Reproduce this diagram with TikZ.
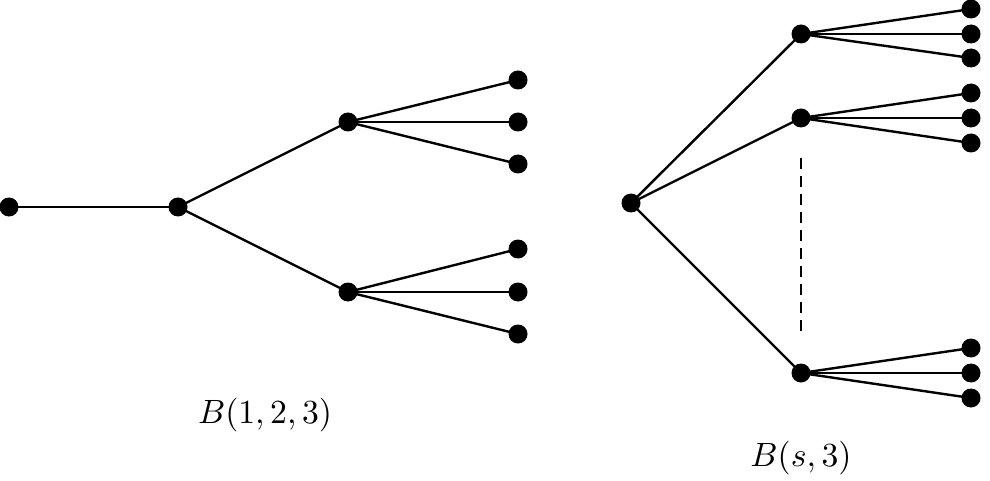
\documentclass[tikz,border=0pt]{standalone}
\usepackage{graphicx}
\begin{document}
\begin{tikzpicture}[x=1pt,y=-1pt,
  dot/.style={circle,fill=black,inner sep=0pt,minimum size=19pt},
  edge/.style={line width=2.4pt},
  lbl/.style={inner sep=0pt}]
\useasboundingbox (0,0) rectangle (990,481);
% left tree
\node[dot] (r) at (9,207) {};
\node[dot] (a) at (178,207) {};
\node[dot] (b1) at (348,122) {};
\node[dot] (b2) at (348,292) {};
\node[dot] (l1) at (518,80) {};
\node[dot] (l2) at (518,122) {};
\node[dot] (l3) at (518,164) {};
\node[dot] (l4) at (518,249) {};
\node[dot] (l5) at (518,292) {};
\node[dot] (l6) at (518,334) {};
\draw[edge] (r.center) -- (a.center);
\draw[edge] (a.center) -- (b1.center);
\draw[edge] (a.center) -- (b2.center);
\foreach \l in {l1,l2,l3} \draw[edge] (b1.center) -- (\l.center);
\foreach \l in {l4,l5,l6} \draw[edge] (b2.center) -- (\l.center);
\node[lbl] (t1) at (265,415) {\scalebox{3.37}{$B(1,2,3)$}};
% right tree
\node[dot] (R) at (631,203) {};
\node[dot] (c1) at (801,34) {};
\node[dot] (c2) at (801,118) {};
\node[dot] (c3) at (801,373) {};
\node[dot] (m1) at (971,9) {};
\node[dot] (m2) at (971,34) {};
\node[dot] (m3) at (971,58) {};
\node[dot] (m4) at (971,93) {};
\node[dot] (m5) at (971,118) {};
\node[dot] (m6) at (971,143) {};
\node[dot] (m7) at (971,348) {};
\node[dot] (m8) at (971,373) {};
\node[dot] (m9) at (971,398) {};
\foreach \c in {c1,c2,c3} \draw[edge] (R.center) -- (\c.center);
\foreach \l in {m1,m2,m3} \draw[edge] (c1.center) -- (\l.center);
\foreach \l in {m4,m5,m6} \draw[edge] (c2.center) -- (\l.center);
\foreach \l in {m7,m8,m9} \draw[edge] (c3.center) -- (\l.center);
\coordinate (d1) at (801,158);
\coordinate (d2) at (801,332);
\draw[line width=2.8pt,dash pattern=on 11pt off 7pt] (d1) -- (d2);
\node[lbl] (t2) at (801,458) {\scalebox{3.37}{$B(s,3)$}};
\end{tikzpicture}
\end{document}
